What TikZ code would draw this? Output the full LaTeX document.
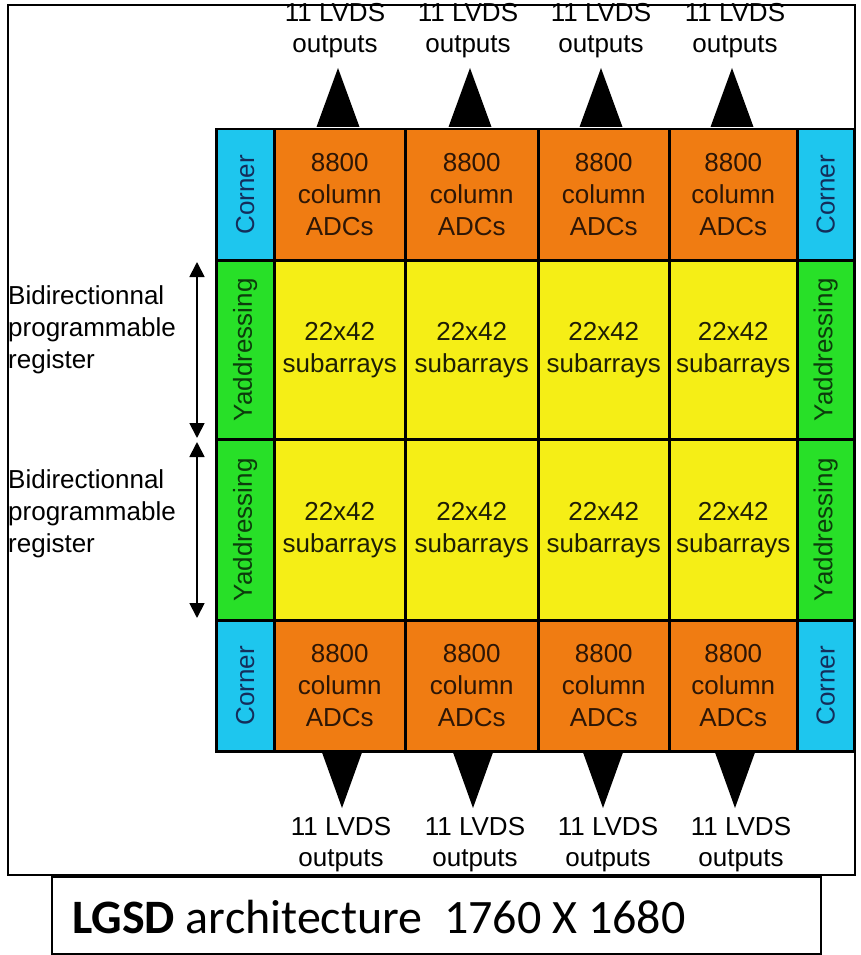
\documentclass[tikz,border=0pt]{standalone}
\usepackage{fontspec}
\setmainfont{Liberation Sans}
\newfontfamily\capfont{Carlito}
\usetikzlibrary{arrows.meta}
\definecolor{cOrange}{RGB}{240,124,18}
\definecolor{cYellow}{RGB}{245,238,22}
\definecolor{cGreen}{RGB}{40,224,40}
\definecolor{cCyan}{RGB}{30,198,238}
\definecolor{tOrange}{RGB}{45,22,6}
\definecolor{tCyan}{RGB}{20,45,90}
\definecolor{tGreen}{RGB}{12,60,12}
\definecolor{tYellow}{RGB}{30,30,5}
\tikzset{
  txt/.style={font=\fontsize{26}{32}\selectfont, inner sep=0pt, align=center},
  cell/.style={txt, draw=black, line width=2.5pt, anchor=north west},
  corner/.style={cell, fill=cCyan, text=tCyan},
  adc/.style={cell, fill=cOrange, text=tOrange},
  yaddr/.style={cell, fill=cGreen, text=tGreen},
  sub/.style={cell, fill=cYellow, text=tYellow},
  outlabel/.style={txt, font=\fontsize{26}{31}\selectfont},
  tri/.style={fill=black},
  dblarrow/.style={{Triangle[length=15pt,width=15pt]}-{Triangle[length=15pt,width=15pt]}, line width=1.8pt}
}
\begin{document}
\begin{tikzpicture}[x=1pt,y=-1pt]
\useasboundingbox (0,0) rectangle (860,955);
% frames
\draw[line width=1.6pt] (8,5) rectangle (855,875);
\draw[line width=1.3pt] (52,877) rectangle (821,954);
\node[anchor=base west, inner sep=0pt] (caption) at (72,933)
  {\capfont\fontsize{48}{50}\selectfont\textbf{LGSD} architecture\ \ 1760 X 1680};

% row 1
\node[corner, minimum width=58pt, minimum height=131pt] (c1) at (215,128) {\rotatebox{90}{Corner}};
\node[adc, minimum width=131pt, minimum height=131pt] (o1) at (273,128) {8800\\column\\ADCs};
\node[adc, minimum width=133pt, minimum height=131pt] (o2) at (404,128) {8800\\column\\ADCs};
\node[adc, minimum width=131pt, minimum height=131pt] (o3) at (537,128) {8800\\column\\ADCs};
\node[adc, minimum width=128pt, minimum height=131pt] (o4) at (668,128) {8800\\column\\ADCs};
\node[corner, minimum width=57pt, minimum height=131pt] (c2) at (796,128) {\rotatebox{90}{Corner}};
% row 2
\node[yaddr, minimum width=58pt, minimum height=179pt] (y1) at (215,259) {\rotatebox{90}{Yaddressing}};
\node[sub, minimum width=131pt, minimum height=179pt] (s1) at (273,259) {22x42\\subarrays};
\node[sub, minimum width=133pt, minimum height=179pt] (s2) at (404,259) {22x42\\subarrays};
\node[sub, minimum width=131pt, minimum height=179pt] (s3) at (537,259) {22x42\\subarrays};
\node[sub, minimum width=128pt, minimum height=179pt] (s4) at (668,259) {22x42\\subarrays};
\node[yaddr, minimum width=57pt, minimum height=179pt] (y2) at (796,259) {\rotatebox{90}{Yaddressing}};
% row 3
\node[yaddr, minimum width=58pt, minimum height=181pt] (y3) at (215,438) {\rotatebox{90}{Yaddressing}};
\node[sub, minimum width=131pt, minimum height=181pt] (s5) at (273,438) {22x42\\subarrays};
\node[sub, minimum width=133pt, minimum height=181pt] (s6) at (404,438) {22x42\\subarrays};
\node[sub, minimum width=131pt, minimum height=181pt] (s7) at (537,438) {22x42\\subarrays};
\node[sub, minimum width=128pt, minimum height=181pt] (s8) at (668,438) {22x42\\subarrays};
\node[yaddr, minimum width=57pt, minimum height=181pt] (y4) at (796,438) {\rotatebox{90}{Yaddressing}};
% row 4
\node[corner, minimum width=58pt, minimum height=131pt] (c3) at (215,619) {\rotatebox{90}{Corner}};
\node[adc, minimum width=131pt, minimum height=131pt] (o5) at (273,619) {8800\\column\\ADCs};
\node[adc, minimum width=133pt, minimum height=131pt] (o6) at (404,619) {8800\\column\\ADCs};
\node[adc, minimum width=131pt, minimum height=131pt] (o7) at (537,619) {8800\\column\\ADCs};
\node[adc, minimum width=128pt, minimum height=131pt] (o8) at (668,619) {8800\\column\\ADCs};
\node[corner, minimum width=57pt, minimum height=131pt] (c4) at (796,619) {\rotatebox{90}{Corner}};

% top labels
\node[outlabel] (t1) at (335,31) {11 LVDS\\outputs};
\node[outlabel] (t2) at (468,31) {11 LVDS\\outputs};
\node[outlabel] (t3) at (601,31) {11 LVDS\\outputs};
\node[outlabel] (t4) at (735,31) {11 LVDS\\outputs};
% bottom labels
\node[outlabel] (b1) at (341,845) {11 LVDS\\outputs};
\node[outlabel] (b2) at (475,845) {11 LVDS\\outputs};
\node[outlabel] (b3) at (608,845) {11 LVDS\\outputs};
\node[outlabel] (b4) at (741,845) {11 LVDS\\outputs};

% top triangles
\coordinate (ta1) at (338,68);
\coordinate (ta2) at (470,68);
\coordinate (ta3) at (601,68);
\coordinate (ta4) at (732,68);
\foreach \i/\x in {1/338,2/470,3/601,4/732}{
  \fill[tri] (ta\i) -- (\x-21.5,127) -- (\x+21.5,127) -- cycle;
}
% bottom triangles
\coordinate (ba1) at (342,808);
\coordinate (ba2) at (473,808);
\coordinate (ba3) at (603,808);
\coordinate (ba4) at (735,808);
\foreach \i/\x in {1/342,2/473,3/603,4/735}{
  \fill[tri] (ba\i) -- (\x-20.5,751) -- (\x+20.5,751) -- cycle;
}

% left labels and bidirectional arrows
\node[txt, align=left, anchor=west] (r1) at (8,330) {Bidirectionnal\\programmable\\register};
\node[txt, align=left, anchor=west] (r2) at (8,514) {Bidirectionnal\\programmable\\register};
\coordinate (a1s) at (197,262);
\coordinate (a1e) at (197,438);
\coordinate (a2s) at (197,442);
\coordinate (a2e) at (197,618);
\draw[dblarrow] (a1s) -- (a1e);
\draw[dblarrow] (a2s) -- (a2e);
\end{tikzpicture}
\end{document}
